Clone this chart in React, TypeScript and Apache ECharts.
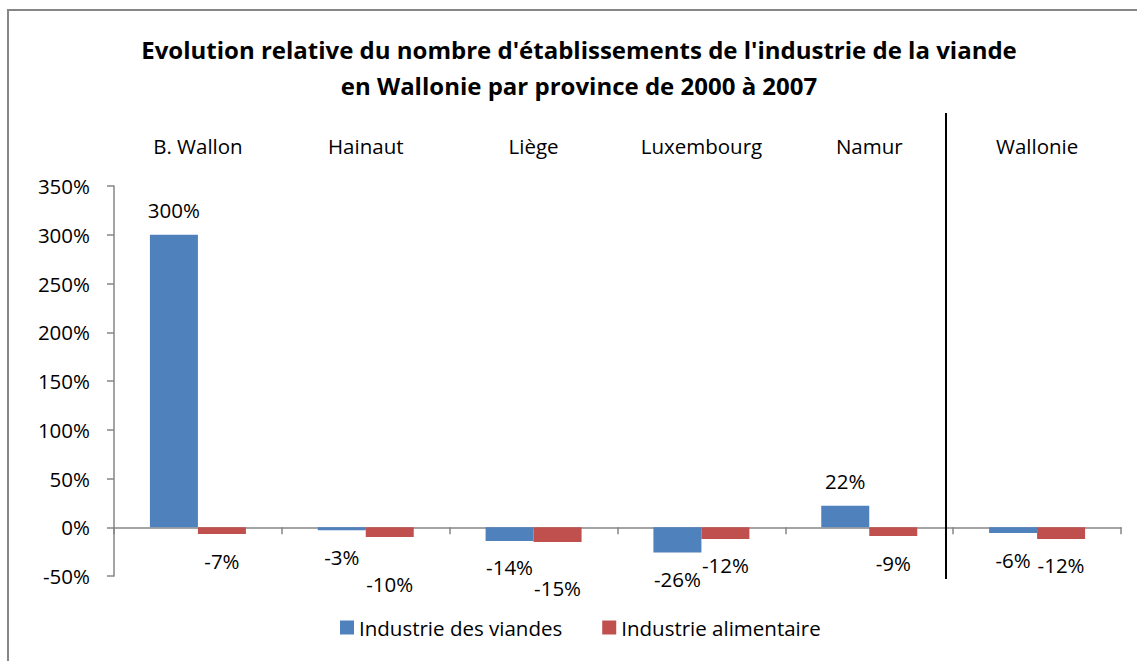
import React, { useEffect, useRef } from "react";
import * as echarts from "echarts";

const categories = ["B. Wallon", "Hainaut", "Liège", "Luxembourg", "Namur", "Wallonie"];
const viandes = [300, -3, -14, -26, 22, -6];
const alimentaire = [-7, -10, -15, -12, -9, -12];
const seriesNames = ["Industrie des viandes", "Industrie alimentaire"];
const yTicks = { min: -50, max: 350, interval: 50 };
// extra label drop (px) for labels that were moved further down in the original
const alimentaireLabelDrop = [0, 20, 20, 0, 0, 0];

const FONT = "'Open Sans', Lato, sans-serif";
const FS = 20.5;

function buildData(values: number[], drops?: number[]) {
  return values.map((v, i) => ({
    value: v,
    label: {
      position: v >= 0 ? "top" : "bottom",
      distance: v >= 0 ? 14 : 16 + (drops ? drops[i] : 0),
    },
  }));
}

export default function App() {
  const ref = useRef<HTMLDivElement>(null);
  useEffect(() => {
    if (!ref.current) return;
    const chart = echarts.init(ref.current, null, { renderer: "svg" });
    const labelCommon = {
      show: true,
      formatter: (p: any) => `${p.value}%`,
      color: "#000",
      fontSize: FS,
      fontFamily: FONT,
    };
    chart.setOption({
      animation: false,
      backgroundColor: "#fff",
      title: {
        text: "Evolution relative du nombre d'établissements de l'industrie de la viande\nen Wallonie par province de 2000 à 2007",
        left: 574,
        top: 26,
        textAlign: "center",
        textStyle: {
          fontFamily: FONT,
          fontWeight: "bold",
          fontSize: 24,
          lineHeight: 36,
          color: "#000",
        },
      },
      legend: {
        data: seriesNames,
        left: 340,
        top: 617,
        padding: 0,
        icon: "rect",
        itemWidth: 14,
        itemHeight: 14,
        itemGap: 40,
        textStyle: { fontFamily: FONT, fontSize: FS, color: "#000", padding: [0, 0, 0, 0] },
      },
      grid: { left: 114, right: 16, top: 186, bottom: 85 },
      xAxis: [
        {
          type: "category",
          data: categories,
          position: "bottom",
          axisLine: { onZero: true, lineStyle: { color: "#868686", width: 1.5 } },
          axisTick: { show: true, length: 7, lineStyle: { color: "#868686", width: 1.5 } },
          axisLabel: { show: false },
          splitLine: { show: false },
        },
        {
          type: "category",
          data: categories,
          position: "top",
          axisLine: { show: false },
          axisTick: { show: false },
          axisLabel: { show: true, margin: 30, fontFamily: FONT, fontSize: FS, color: "#000" },
          splitLine: { show: false },
        },
      ],
      yAxis: {
        type: "value",
        min: yTicks.min,
        max: yTicks.max,
        interval: yTicks.interval,
        axisLine: { show: true, lineStyle: { color: "#868686", width: 1.5 } },
        axisTick: { show: true, length: 7, lineStyle: { color: "#868686", width: 1.5 } },
        axisLabel: {
          formatter: "{value}%",
          margin: 24,
          fontFamily: FONT,
          fontSize: FS,
          color: "#000",
        },
        splitLine: { show: false },
      },
      series: [
        {
          name: seriesNames[0],
          type: "bar",
          xAxisIndex: 0,
          barWidth: 48,
          barGap: "0%",
          itemStyle: { color: "#4F81BD" },
          label: labelCommon,
          data: buildData(viandes),
        },
        {
          name: seriesNames[1],
          type: "bar",
          xAxisIndex: 0,
          barWidth: 48,
          barGap: "0%",
          itemStyle: { color: "#C0504D" },
          label: labelCommon,
          data: buildData(alimentaire, alimentaireLabelDrop),
        },
      ],
      graphic: [
        {
          type: "rect",
          shape: { x: 8, y: 10, width: 1200, height: 700 },
          style: { fill: "none", stroke: "#868686", lineWidth: 2 },
          silent: true,
          z: 100,
        },
        {
          type: "line",
          shape: { x1: 946, y1: 113, x2: 946, y2: 579 },
          style: { stroke: "#000", lineWidth: 2 },
          silent: true,
          z: 100,
        },
      ],
    });
    return () => chart.dispose();
  }, []);
  return (
    <div
      ref={ref}
      style={{ position: "absolute", left: 0, top: 0, width: 1137, height: 661 }}
    />
  );
}
